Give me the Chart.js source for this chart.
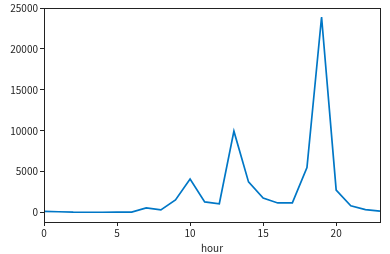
<!DOCTYPE html>
<html>
<head>
<meta charset="utf-8">
<script src="https://cdn.jsdelivr.net/npm/chart.js@4/dist/chart.umd.min.js"></script>
<style>
html,body{margin:0;padding:0;background:#fff;}
#wrap{width:390px;height:254px;position:relative;}
</style>
</head>
<body>
<div id="wrap"><canvas id="c" width="390" height="254"></canvas></div>
<script>
const hours = [0,1,2,3,4,5,6,7,8,9,10,11,12,13,14,15,16,17,18,19,20,21,22,23];
const counts = [150,100,50,40,40,50,50,570,330,1550,4100,1300,1080,9950,3750,1770,1180,1180,5500,23900,2750,830,360,180];
const xTicks = [0,5,10,15,20];
const yTicks = [0,5000,10000,15000,20000,25000];
const xLabel = 'hour';

const FONT = "'Noto Sans CJK JP', 'DejaVu Sans', sans-serif";

const frame = {
  id: 'frame',
  afterDraw(chart) {
    const a = chart.chartArea, ctx = chart.ctx;
    ctx.save();
    ctx.strokeStyle = '#222';
    ctx.lineWidth = 1;
    ctx.strokeRect(Math.round(a.left)+0.5, Math.round(a.top)+0.5, Math.round(a.right-a.left), Math.round(a.bottom-a.top));
    ctx.restore();
  }
};

new Chart(document.getElementById('c'), {
  type: 'line',
  data: {
    datasets: [{
      data: hours.map((h,i)=>({x:h, y:counts[i]})),
      borderColor: '#0077C6',
      borderWidth: 1.7,
      pointRadius: 0,
      fill: false,
      tension: 0
    }]
  },
  options: {
    responsive: false,
    animation: false,
    events: [],
    layout: { padding: { left: 0, right: 10, top: 5, bottom: 0 } },
    plugins: { legend: { display: false }, tooltip: { enabled: false } },
    scales: {
      x: {
        type: 'linear',
        min: 0, max: 23,
        afterBuildTicks(s){ s.ticks = xTicks.map(v=>({value:v})); },
        afterFit(s){ s.height = 32; },
        grid: { drawOnChartArea: false, tickLength: 4, color: '#222' },
        border: { color: '#222' },
        ticks: { color: '#222', font: { family: FONT, size: 10 }, padding: 1, maxRotation: 0,
                 callback: v => String(v) },
        title: { display: true, text: xLabel, color: '#222', font: { family: FONT, size: 10 }, padding: { top: 0, bottom: 0 } }
      },
      y: {
        min: -1150, max: 25000,
        afterBuildTicks(s){ s.ticks = yTicks.map(v=>({value:v})); },
        afterFit(s){ s.width = 44; },
        grid: { drawOnChartArea: false, tickLength: 4, color: '#222' },
        border: { color: '#222' },
        ticks: { color: '#222', font: { family: FONT, size: 10 }, padding: 2,
                 callback: v => String(v) }
      }
    }
  },
  plugins: [frame]
});
</script>
</body>
</html>
